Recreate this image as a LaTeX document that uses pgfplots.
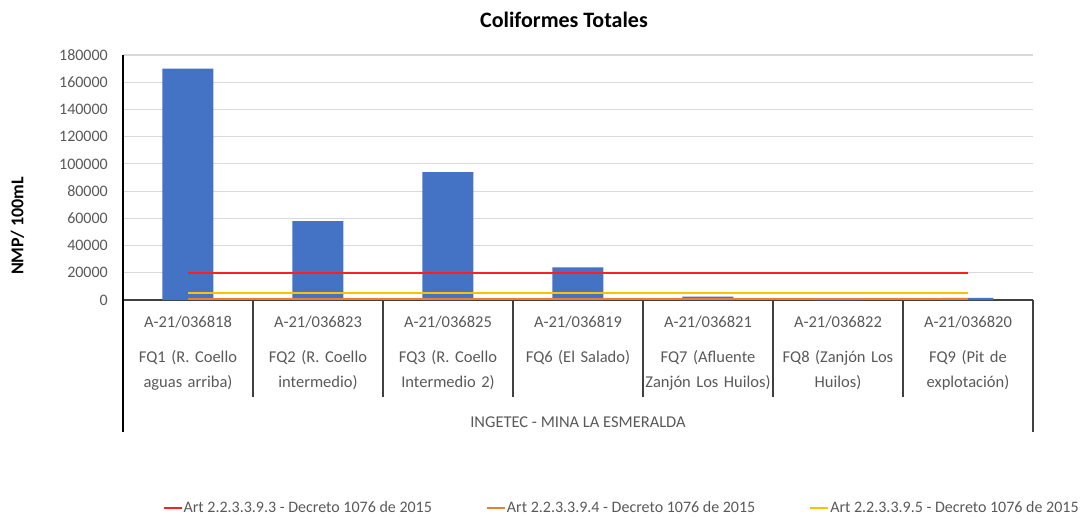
\documentclass[border=0pt]{standalone}
\usepackage{pgfplots}
\pgfplotsset{compat=1.18}
\usepackage{fontspec}
\setmainfont{Carlito}
\definecolor{barblue}{HTML}{4472C4}
\definecolor{redl}{HTML}{FF1F1F}
\definecolor{orangel}{HTML}{ED7D31}
\definecolor{yellowl}{HTML}{FFC000}
\definecolor{txtgray}{HTML}{595959}
\definecolor{gridgray}{HTML}{D9D9D9}
\begin{document}
\begin{tikzpicture}[x=1pt,y=1pt]
\path[use as bounding box] (-123,-219) rectangle (957,300);
\begin{axis}[
  at={(0,0)}, anchor=south west,
  scale only axis, width=910pt, height=245pt,
  xmin=-0.5, xmax=6.5, ymin=0, ymax=180000,
  ytick={0,20000,...,180000},
  scaled y ticks=false,
  /pgf/number format/assume math mode=true,
  /pgf/number format/fixed,
  /pgf/number format/1000 sep={},
  axis x line*=bottom, axis y line*=left,
  axis line style={-, line width=1.5pt},
  x axis line style={draw=black!75},
  y axis line style={draw=black},
  major tick length=0pt,
  ymajorgrids, grid style={gridgray, line width=1.2pt},
  yticklabel style={font=\fontsize{16}{18}\selectfont, text=txtgray, inner sep=0pt, xshift=-15pt},
  xtick={0,...,6},
  xticklabels={
    {A-21/036818\\[10pt]FQ1 (R. Coello\\aguas arriba)},
    {A-21/036823\\[10pt]FQ2 (R. Coello\\intermedio)},
    {A-21/036825\\[10pt]FQ3 (R. Coello\\Intermedio 2)},
    {A-21/036819\\[10pt]FQ6 (El Salado)},
    {A-21/036821\\[10pt]FQ7 (Afluente\\Zanjón Los Huilos)},
    {A-21/036822\\[10pt]FQ8 (Zanjón Los\\Huilos)},
    {A-21/036820\\[10pt]FQ9 (Pit de\\explotación)}},
  xticklabel style={font=\fontsize{16.5}{25}\selectfont, text=txtgray, align=center, text width=128pt, anchor=north, inner sep=0pt, yshift=-16pt},
  clip=false,
  legend columns=3,
  legend style={draw=none, fill=none, at={(0.040,-0.849)}, anchor=west,
    font=\fontsize{16}{18}\selectfont, text=txtgray,
    nodes={inner xsep=1pt},
    /tikz/every even column/.append style={column sep=53pt}},
  legend image code/.code={\draw[#1] (0pt,0pt) -- (18pt,0pt);},
]
\addplot[ybar, bar width=51pt, fill=barblue, draw=none, forget plot]
  coordinates {(0,170000) (1,58000) (2,94000) (3,24000) (4,2500) (5,200) (6,1500)};
\addplot[redl, line width=2pt] coordinates {(0,20000) (6,20000)};
\addlegendentry{Art 2.2.3.3.9.3 - Decreto 1076 de 2015}
\addplot[orangel, line width=2pt] coordinates {(0,1000) (6,1000)};
\addlegendentry{Art 2.2.3.3.9.4 - Decreto 1076 de 2015}
\addplot[yellowl, line width=2pt] coordinates {(0,5000) (6,5000)};
\addlegendentry{Art 2.2.3.3.9.5 - Decreto 1076 de 2015}
\draw[black!75, line width=1.5pt] (axis cs:0.5,0) -- ([yshift=-97pt]axis cs:0.5,0);
\draw[black!75, line width=1.5pt] (axis cs:1.5,0) -- ([yshift=-97pt]axis cs:1.5,0);
\draw[black!75, line width=1.5pt] (axis cs:2.5,0) -- ([yshift=-97pt]axis cs:2.5,0);
\draw[black!75, line width=1.5pt] (axis cs:3.5,0) -- ([yshift=-97pt]axis cs:3.5,0);
\draw[black!75, line width=1.5pt] (axis cs:4.5,0) -- ([yshift=-97pt]axis cs:4.5,0);
\draw[black!75, line width=1.5pt] (axis cs:5.5,0) -- ([yshift=-97pt]axis cs:5.5,0);
\draw[black, line width=1.5pt] (axis cs:-0.5,0) -- ([yshift=-132pt]axis cs:-0.5,0);
\draw[black!75, line width=1.5pt] (axis cs:6.5,0) -- ([yshift=-132pt]axis cs:6.5,0);
\node[font=\fontsize{16.5}{18}\selectfont, text=txtgray] at ([yshift=-122pt]rel axis cs:0.5,0) {INGETEC - MINA LA ESMERALDA};
\end{axis}
\node[font=\bfseries\fontsize{22}{26}\selectfont] at (441,280) {Coliformes Totales};
\node[font=\bfseries\fontsize{18}{20}\selectfont, rotate=90] at (-105.5,74) {NMP/ 100mL};
\end{tikzpicture}
\end{document}
